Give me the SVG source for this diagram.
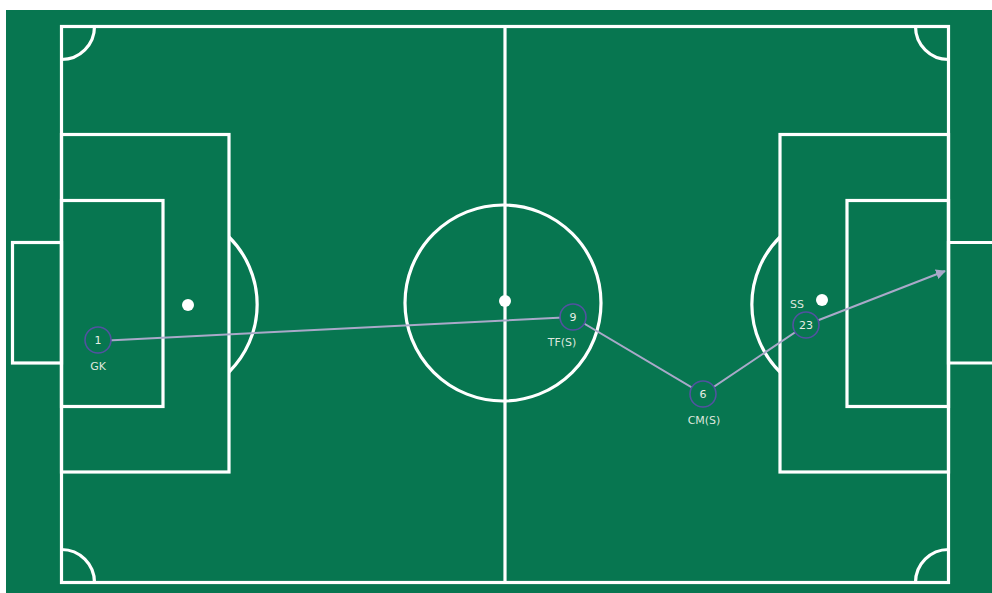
<svg xmlns="http://www.w3.org/2000/svg" width="992" height="593" viewBox="0 0 992 593">
<defs>
<style>
.ln{fill:none;stroke:#ffffff;stroke-width:3.2}
.spot{fill:#ffffff}
.con{fill:none;stroke:#a9a9c9;stroke-width:2}
.pc{fill:#077650;stroke:#5252a0;stroke-width:1.6}
.num{font-family:"DejaVu Sans",sans-serif;font-size:11px;fill:#e6eee6;text-anchor:middle}
.lab{font-family:"DejaVu Sans",sans-serif;font-size:11px;fill:#dde6dd;text-anchor:middle}
</style>
<marker id="ah" viewBox="0 0 10 10" refX="9" refY="5" markerWidth="5" markerHeight="5" orient="auto">
<path d="M0,0 L10,5 L0,10 z" fill="#a9a9c9"/>
</marker>
</defs>
<rect width="992" height="593" fill="#ffffff"/>
<g id="pitch">
<rect x="6" y="10" width="986" height="583" fill="#077650"/>
<rect class="ln" x="61.5" y="26.5" width="887" height="556"/>
<line class="ln" x1="505" y1="26.5" x2="505" y2="582.5"/>
<circle class="ln" cx="503" cy="303" r="98"/>
<circle class="spot" cx="505" cy="301" r="6"/>
<rect class="ln" x="61.5" y="134.5" width="167.5" height="337.5"/>
<rect class="ln" x="61.5" y="200.5" width="101.5" height="206"/>
<rect class="ln" x="12.5" y="242.5" width="49" height="120.5"/>
<path class="ln" d="M229,237 A95,95 0 0 1 229,372"/>
<circle class="spot" cx="188" cy="305" r="6"/>
<rect class="ln" x="780" y="134.5" width="168.5" height="337.5"/>
<rect class="ln" x="847" y="200.5" width="101.5" height="206"/>
<path class="ln" d="M992,242.5 L948.5,242.5 L948.5,363 L992,363"/>
<path class="ln" d="M780,237 A95,95 0 0 0 780,372"/>
<circle class="spot" cx="822" cy="300" r="6"/>
<path class="ln" d="M94.5,26.5 A33,33 0 0 1 61.5,59.5"/>
<path class="ln" d="M915.5,26.5 A33,33 0 0 0 948.5,59.5"/>
<path class="ln" d="M61.5,549.5 A33,33 0 0 1 94.5,582.5"/>
<path class="ln" d="M948.5,549.5 A33,33 0 0 0 915.5,582.5"/>
</g>
<g id="connectors">
<polyline class="con" points="98,341 573,317 703,394 806,325"/>
<line class="con" x1="806" y1="325" x2="945" y2="271" marker-end="url(#ah)"/>
</g>
<g id="p1">
<circle class="pc" cx="98" cy="340" r="13"/>
<text class="num" x="98" y="344">1</text>
<text class="lab" x="98" y="370">GK</text>
</g>
<g id="p9">
<circle class="pc" cx="573" cy="317" r="13"/>
<text class="num" x="573" y="321">9</text>
<text class="lab" x="562" y="346">TF(S)</text>
</g>
<g id="p6">
<circle class="pc" cx="703" cy="394" r="13"/>
<text class="num" x="703" y="398">6</text>
<text class="lab" x="704" y="424">CM(S)</text>
</g>
<g id="p23">
<circle class="pc" cx="806" cy="325" r="13"/>
<text class="num" x="806" y="329">23</text>
<text class="lab" x="797" y="308">SS</text>
</g>
</svg>
